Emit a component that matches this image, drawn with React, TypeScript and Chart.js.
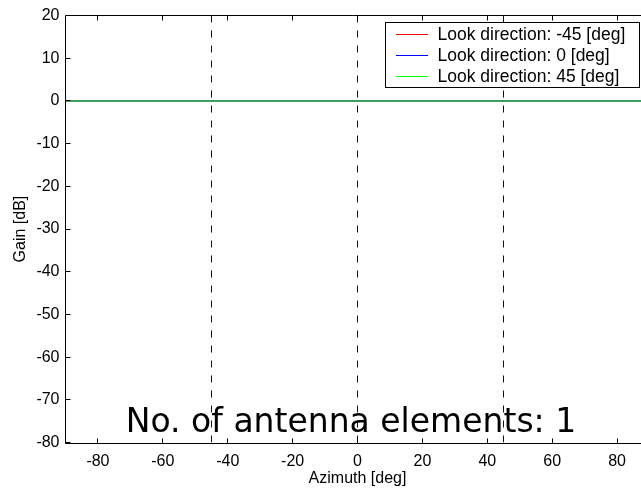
import { useEffect, useRef } from "react";
import { Chart, registerables } from "chart.js";

Chart.register(...registerables);

// Beam pattern of a single-element array: flat 0 dB for every look direction.
const azimuthDeg = [-90, -45, 0, 45, 90];
const gainLookMinus45 = [0, 0, 0, 0, 0];
const gainLook0 = [0, 0, 0, 0, 0];
const gainLook45 = [0, 0, 0, 0, 0];

const lookDirections = [-45, 0, 45];
const seriesLabels = [
  "Look direction: -45 [deg]",
  "Look direction: 0 [deg]",
  "Look direction: 45 [deg]",
];
const seriesColors = ["#ff0000", "#0000ff", "#00ff00"];

const azimuthRange = [-90, 90];
const gainRange = [-80, 20];
const xTickValues = [-80, -60, -40, -20, 0, 20, 40, 60, 80];
const yTickValues = [-80, -70, -60, -50, -40, -30, -20, -10, 0, 10, 20];

const xAxisTitle = "Azimuth [deg]";
const yAxisTitle = "Gain [dB]";
const elementsNote = "No. of antenna elements: 1";
// where the note sits, in data units (centre x, baseline y)
const notePosition = [-2, -77.6];

const FONT = "'Liberation Sans', Arial, Helvetica, sans-serif";
const TICK_LEN = 5;
// the axes box runs this far past the right edge of the figure
const RIGHT_OVERHANG = 8.5;

const overhangPlugin = {
  id: "overhang",
  afterLayout(chart: any) {
    const xs = chart.scales.x;
    chart.chartArea.right += RIGHT_OVERHANG;
    chart.chartArea.width += RIGHT_OVERHANG;
    xs.right += RIGHT_OVERHANG;
    xs.width += RIGHT_OVERHANG;
    xs.configure();
  },
};

// box, inward tick marks, legend and note
const matlabAxesPlugin = {
  id: "matlabAxes",
  afterDatasetsDraw(chart: any) {
    const { ctx, chartArea } = chart;
    const xs = chart.scales.x;
    const ys = chart.scales.y;
    const { left, right, top, bottom } = chartArea;
    const l = Math.floor(left) + 0.5;
    const t = Math.floor(top) + 0.5;
    const b = Math.round(bottom) + 0.5;
    const r = Math.round(right) + 0.5;
    ctx.save();
    ctx.strokeStyle = "#000";
    ctx.lineWidth = 1;
    ctx.setLineDash([]);
    ctx.beginPath();
    ctx.moveTo(l, t);
    ctx.lineTo(r, t);
    ctx.moveTo(l, t);
    ctx.lineTo(l, b);
    ctx.lineTo(r, b);
    ctx.moveTo(r, t);
    ctx.lineTo(r, b);
    ctx.stroke();

    ctx.beginPath();
    for (const v of xTickValues) {
      const px = Math.floor(xs.getPixelForValue(v)) + 0.5;
      ctx.moveTo(px, b);
      ctx.lineTo(px, b - TICK_LEN);
      ctx.moveTo(px, t);
      ctx.lineTo(px, t + TICK_LEN);
    }
    for (const v of yTickValues) {
      const py = Math.floor(ys.getPixelForValue(v)) + 0.5;
      ctx.moveTo(l, py);
      ctx.lineTo(l + TICK_LEN, py);
      ctx.moveTo(r, py);
      ctx.lineTo(r - TICK_LEN, py);
    }
    ctx.stroke();

    // legend
    ctx.font = `17.5px ${FONT}`;
    const textW = Math.max(...seriesLabels.map((s) => ctx.measureText(s).width));
    const boxW = Math.round(52.5 + textW + 13.5);
    const boxH = 65;
    const boxRight = Math.round(right - 10.5);
    const boxLeft = boxRight - boxW;
    const boxTop = Math.floor(top) + 7;
    ctx.fillStyle = "#fff";
    ctx.fillRect(boxLeft + 0.5, boxTop + 0.5, boxW, boxH);
    ctx.strokeStyle = "#000";
    ctx.strokeRect(boxLeft + 0.5, boxTop + 0.5, boxW, boxH);
    ctx.textBaseline = "middle";
    ctx.textAlign = "left";
    seriesLabels.forEach((label, i) => {
      const rowY = boxTop + 12.5 + i * 21;
      ctx.strokeStyle = seriesColors[i];
      ctx.beginPath();
      ctx.moveTo(boxLeft + 11, rowY);
      ctx.lineTo(boxLeft + 43, rowY);
      ctx.stroke();
      ctx.fillStyle = "#000";
      ctx.fillText(label, boxLeft + 52.5, rowY + 0.5);
    });

    // note
    ctx.font = `33px 'DejaVu Sans', sans-serif`;
    ctx.fillStyle = "#000";
    ctx.textAlign = "center";
    ctx.textBaseline = "alphabetic";
    ctx.fillText(elementsNote, xs.getPixelForValue(notePosition[0]), ys.getPixelForValue(notePosition[1]));
    ctx.restore();
  },
};

export default function App() {
  const canvasRef = useRef<HTMLCanvasElement | null>(null);

  useEffect(() => {
    const canvas = canvasRef.current;
    if (!canvas) return;
    const gainSeries = [gainLookMinus45, gainLook0, gainLook45];
    const patternSets = gainSeries.map((g, i) => ({
      label: seriesLabels[i],
      data: azimuthDeg.map((a, k) => ({ x: a, y: g[k] })),
      borderColor: seriesColors[i],
      borderWidth: 1,
      pointRadius: 0,
      fill: false,
      order: 3 - i,
    }));
    const steerSets = lookDirections.map((d) => ({
      label: `steer ${d}`,
      data: [
        { x: d, y: gainRange[0] },
        { x: d, y: gainRange[1] },
      ],
      borderColor: "#111",
      borderWidth: 1,
      borderDash: [7, 8],
      pointRadius: 0,
      fill: false,
      order: 0,
    }));

    const chart = new Chart(canvas, {
      type: "line",
      data: { datasets: [...patternSets, ...steerSets] as any },
      plugins: [overhangPlugin, matlabAxesPlugin],
      options: {
        animation: false,
        responsive: false,
        devicePixelRatio: 1,
        layout: { padding: { left: 0, top: 15, right: 0, bottom: 0 } },
        plugins: { legend: { display: false }, tooltip: { enabled: false } },
        scales: {
          x: {
            type: "linear",
            min: azimuthRange[0],
            max: azimuthRange[1],
            grid: { display: false, drawTicks: false },
            border: { display: false },
            afterFit: (s: any) => {
              s.height = 47.5;
            },
            afterBuildTicks: (s: any) => {
              s.ticks = xTickValues.map((v) => ({ value: v }));
            },
            ticks: {
              font: { family: FONT, size: 16 },
              color: "#000",
              padding: 9,
              maxRotation: 0,
              autoSkip: false,
            },
            title: {
              display: true,
              text: xAxisTitle,
              font: { family: FONT, size: 16 },
              color: "#000",
              padding: { top: 0, bottom: 2 },
            },
          },
          y: {
            type: "linear",
            min: gainRange[0],
            max: gainRange[1],
            grid: { display: false, drawTicks: false },
            border: { display: false },
            afterFit: (s: any) => {
              s.width = 65.5;
            },
            afterBuildTicks: (s: any) => {
              s.ticks = yTickValues.map((v) => ({ value: v }));
            },
            ticks: {
              font: { family: FONT, size: 16 },
              color: "#000",
              padding: 6,
              autoSkip: false,
            },
            title: {
              display: true,
              text: yAxisTitle,
              font: { family: FONT, size: 16 },
              color: "#000",
              padding: { top: 11, bottom: 0 },
            },
          },
        },
      },
    });
    return () => chart.destroy();
  }, []);

  return (
    <div
      style={{
        position: "fixed",
        left: 0,
        top: 0,
        width: 641,
        height: 490,
        overflow: "hidden",
        background: "#fff",
      }}
    >
      <canvas ref={canvasRef} width={641} height={490} style={{ width: 641, height: 490, display: "block" }} />
    </div>
  );
}
